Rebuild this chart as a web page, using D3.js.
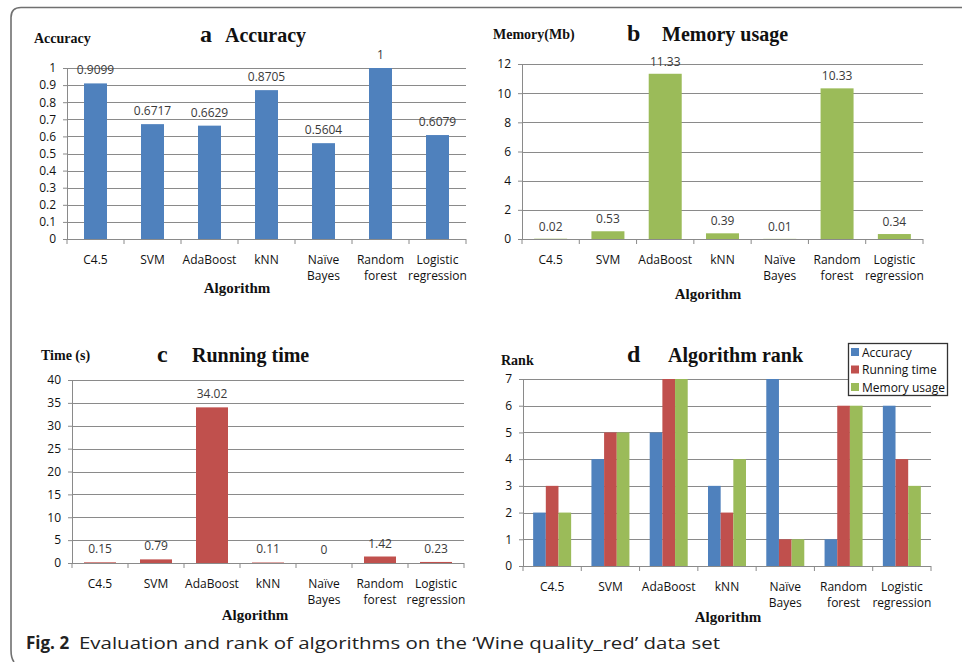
<!DOCTYPE html>
<html><head><meta charset="utf-8">
<script src="https://cdn.jsdelivr.net/npm/d3@7"></script>
<style>body{margin:0;background:#fff}</style>
</head><body><svg id="c" width="962" height="662" xmlns="http://www.w3.org/2000/svg"></svg>
<script>
// ---- data ----
const categories = ["C4.5", "SVM", "AdaBoost", "kNN", "Naïve Bayes", "Random forest", "Logistic regression"];
const accuracy = [0.9099, 0.6717, 0.6629, 0.8705, 0.5604, 1, 0.6079];
const memory = [0.02, 0.53, 11.33, 0.39, 0.01, 10.33, 0.34];
const runTime = [0.15, 0.79, 34.02, 0.11, 0, 1.42, 0.23];
const rankAccuracy = [2, 4, 5, 3, 7, 1, 6];
const rankTime = [3, 5, 7, 2, 1, 6, 4];
const rankMemory = [2, 5, 7, 4, 1, 6, 3];
const rankSeries = ["Accuracy", "Running time", "Memory usage"];
const accTicks = [0, 0.1, 0.2, 0.3, 0.4, 0.5, 0.6, 0.7, 0.8, 0.9, 1];
const memTicks = [0, 2, 4, 6, 8, 10, 12];
const timeTicks = [0, 5, 10, 15, 20, 25, 30, 35, 40];
const rankTicks = [0, 1, 2, 3, 4, 5, 6, 7];

const BLUE = "#4F81BD", RED = "#C0504D", GREEN = "#9BBB59";
const GRID = "#8a8a8a";
const SANS = "'Open Sans', 'Noto Sans', sans-serif";
const SERIF = "'Liberation Serif', 'DejaVu Serif', serif";

const svg = d3.select("#c");
svg.append("rect").attr("width", 962).attr("height", 662).attr("fill", "#fff");
svg.append("path")
  .attr("d", "M962,7.5 H21 Q11,7.5 11,17.5 V650 Q11,658 14,662")
  .attr("fill", "none").attr("stroke", "#707070").attr("stroke-width", 1.6);

function panel(cfg) {
  const g = svg.append("g");
  const x = d3.scaleBand().domain(categories).range([cfg.x0, cfg.x1]);
  const y = d3.scaleLinear().domain([0, d3.max(cfg.ticks)]).range([cfg.y0, cfg.yTop]);

  // grid
  g.selectAll("line.grid").data(cfg.ticks.filter(t => t > 0)).join("line")
    .attr("class", "grid")
    .attr("x1", cfg.x0).attr("x2", cfg.x1)
    .attr("y1", d => Math.round(y(d)) + 0.5).attr("y2", d => Math.round(y(d)) + 0.5)
    .attr("stroke", GRID).attr("stroke-width", 1);

  // y axis
  const ya = g.append("g").attr("transform", `translate(${cfg.x0},0)`)
    .call(d3.axisLeft(y).tickValues(cfg.ticks).tickSize(4).tickPadding(7).tickSizeOuter(0)
      .tickFormat(d => String(+d.toFixed(2))));
  ya.select(".domain").attr("stroke", GRID);
  ya.selectAll(".tick line").attr("stroke", GRID);
  ya.selectAll(".tick text").attr("font-family", SANS).attr("font-size", 12).attr("fill", "#111");

  // bars
  const barsG = g.append("g");
  if (cfg.series.length === 1) {
    const s = cfg.series[0];
    const bw = cfg.barW;
    barsG.selectAll("rect").data(s.values).join("rect")
      .attr("x", (d, i) => x(categories[i]) + x.bandwidth() / 2 - bw / 2)
      .attr("width", bw)
      .attr("y", d => y(d)).attr("height", d => cfg.y0 - y(d))
      .attr("fill", s.color);
    g.append("g").selectAll("text").data(s.values).join("text")
      .attr("x", (d, i) => x(categories[i]) + x.bandwidth() / 2)
      .attr("y", d => y(d) - cfg.labelOff)
      .attr("text-anchor", "middle")
      .attr("font-family", SANS).attr("font-size", 12).attr("fill", "#3a3a3a")
      .text(d => String(d));
  } else {
    const sub = d3.scaleBand().domain(d3.range(cfg.series.length)).range([0, cfg.groupW]);
    cfg.series.forEach((s, si) => {
      barsG.append("g").selectAll("rect").data(s.values).join("rect")
        .attr("x", (d, i) => x(categories[i]) + x.bandwidth() / 2 - cfg.groupW / 2 + sub(si))
        .attr("width", sub.bandwidth())
        .attr("y", d => y(d)).attr("height", d => cfg.y0 - y(d))
        .attr("fill", s.color);
    });
  }

  // x axis
  g.append("line").attr("x1", cfg.x0).attr("x2", cfg.x1)
    .attr("y1", cfg.y0 + 0.5).attr("y2", cfg.y0 + 0.5).attr("stroke", GRID);
  const bounds = categories.map(c => x(c)).concat([cfg.x1]);
  g.selectAll("line.xt").data(bounds).join("line").attr("class", "xt")
    .attr("x1", d => d).attr("x2", d => d)
    .attr("y1", cfg.y0).attr("y2", cfg.y0 + 5).attr("stroke", GRID);
  const cl = g.append("g").selectAll("text").data(categories).join("text")
    .attr("text-anchor", "middle")
    .attr("font-family", SANS).attr("font-size", 12).attr("fill", "#111");
  cl.each(function (c) {
    const parts = c.split(" ");
    const t = d3.select(this);
    parts.forEach((p, k) => {
      t.append("tspan").attr("x", x(c) + x.bandwidth() / 2)
        .attr("y", cfg.y0 + 25 + k * 16).text(p);
    });
  });

  // axis title "Algorithm"
  g.append("text").attr("x", cfg.algX).attr("y", cfg.algY).attr("text-anchor", "middle")
    .attr("font-family", SERIF).attr("font-weight", "bold").attr("font-size", 15)
    .attr("fill", "#111").text("Algorithm");
  // y label
  g.append("text").attr("x", cfg.ylX).attr("y", cfg.ylY)
    .attr("font-family", SERIF).attr("font-weight", "bold").attr("font-size", 14)
    .attr("fill", "#111").text(cfg.yLabel);
  // title
  g.append("text").attr("x", cfg.letterX).attr("y", cfg.titleY)
    .attr("font-family", SERIF).attr("font-weight", "bold").attr("font-size", 24)
    .attr("fill", "#111").text(cfg.letter);
  g.append("text").attr("x", cfg.titleX).attr("y", cfg.titleY)
    .attr("font-family", SERIF).attr("font-weight", "bold").attr("font-size", 20)
    .attr("fill", "#111").text(cfg.title);
  return {x, y};
}

panel({x0: 67, x1: 466, yTop: 68, y0: 239, ticks: accTicks, barW: 23, labelOff: 9,
  series: [{values: accuracy, color: BLUE}],
  algX: 237, algY: 293, ylX: 34, ylY: 43, yLabel: "Accuracy",
  letter: "a", letterX: 200, title: "Accuracy", titleX: 225, titleY: 42});

panel({x0: 522, x1: 923, yTop: 64, y0: 239, ticks: memTicks, barW: 33, labelOff: 8,
  series: [{values: memory, color: GREEN}],
  algX: 708, algY: 299, ylX: 493, ylY: 39, yLabel: "Memory(Mb)",
  letter: "b", letterX: 627, title: "Memory usage", titleX: 662, titleY: 41});

panel({x0: 72, x1: 464, yTop: 380, y0: 563, ticks: timeTicks, barW: 32, labelOff: 9,
  series: [{values: runTime, color: RED}],
  algX: 255, algY: 620, ylX: 41, ylY: 360, yLabel: "Time (s)",
  letter: "c", letterX: 157, title: "Running time", titleX: 192, titleY: 362});

panel({x0: 523, x1: 931, yTop: 379, y0: 566, ticks: rankTicks, groupW: 38,
  series: [{values: rankAccuracy, color: BLUE}, {values: rankTime, color: RED}, {values: rankMemory, color: GREEN}],
  algX: 728, algY: 622, ylX: 501, ylY: 365, yLabel: "Rank",
  letter: "d", letterX: 627, title: "Algorithm rank", titleX: 668, titleY: 362});

// legend for panel d
const lg = svg.append("g");
lg.append("rect").attr("x", 848.5).attr("y", 343.5).attr("width", 99).attr("height", 52)
  .attr("fill", "#fff").attr("stroke", "#333").attr("stroke-width", 1.3);
const lcolors = [BLUE, RED, GREEN];
lg.selectAll("rect.sw").data(rankSeries).join("rect").attr("class", "sw")
  .attr("x", 851).attr("y", (d, i) => 348 + i * 17.5).attr("width", 8).attr("height", 8)
  .attr("fill", (d, i) => lcolors[i]);
lg.selectAll("text").data(rankSeries).join("text")
  .attr("x", 862).attr("y", (d, i) => 356.5 + i * 17.5)
  .attr("font-family", SANS).attr("font-size", 12).attr("fill", "#111").text(d => d);

// caption
const cap = svg.append("text").attr("x", 26).attr("y", 649)
  .attr("font-family", SANS).attr("font-size", 17).attr("fill", "#222");
cap.append("tspan").attr("font-weight", "bold").text("Fig. 2");
cap.append("tspan").attr("x", 79).text("Evaluation and rank of algorithms on the ‘Wine quality_red’ data set")
  .attr("textLength", 641).attr("lengthAdjust", "spacingAndGlyphs");
</script></body></html>
